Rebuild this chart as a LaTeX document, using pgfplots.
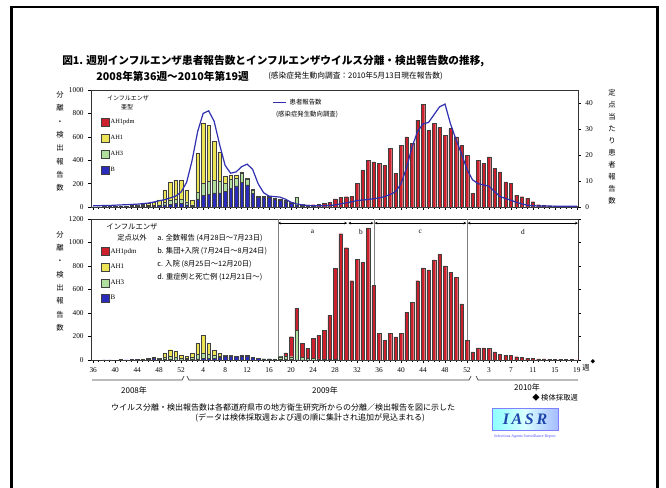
\documentclass[border=0pt]{standalone}
\usepackage{fontspec}
\setmainfont{Liberation Serif}
\newfontfamily\jp{Noto Sans CJK JP}
\usepackage{pgfplots}
\pgfplotsset{compat=1.18}
\usepackage{pgfplotstable}
\usetikzlibrary{arrows.meta}

\definecolor{cpdm}{RGB}{204,32,44}
\definecolor{ch1}{RGB}{236,228,84}
\definecolor{ch3}{RGB}{176,222,156}
\definecolor{cb}{RGB}{44,44,188}
\definecolor{cline}{RGB}{48,48,176}
\definecolor{logoblue}{RGB}{30,70,170}

\newcommand\fs[1]{\fontsize{#1}{#1}\selectfont}

\pgfplotstableread{
i pdm h1 h3 b
0 0 0 0 1
1 0 0 1 1
2 0 1 1 1
3 0 1 1 2
4 0 2 1 2
5 0 3 2 3
6 0 4 2 3
7 0 6 3 4
8 0 8 4 6
9 0 12 5 8
10 0 18 6 8
11 0 25 6 10
12 0 40 8 12
13 0 105 20 20
14 0 155 30 25
15 0 165 35 30
16 0 165 35 30
17 0 100 25 20
18 0 40 10 10
19 0 330 60 70
20 0 520 100 100
21 0 480 110 110
22 0 330 110 120
23 0 250 100 120
24 0 60 70 135
25 0 30 80 160
26 0 20 70 180
27 0 15 75 210
28 0 10 50 190
29 0 5 30 115
30 0 0 15 80
31 0 0 10 80
32 0 0 10 80
33 0 0 10 65
34 0 0 10 60
35 5 0 5 45
36 5 0 5 30
37 5 0 65 15
38 5 0 10 10
39 8 0 5 5
40 15 0 3 2
41 20 0 2 0
42 30 0 2 0
43 40 0 2 0
44 70 0 0 0
45 85 0 0 0
46 88 0 0 0
47 90 0 0 0
48 204 0 0 0
49 314 0 0 0
50 400 0 0 0
51 385 0 0 0
52 373 0 0 0
53 357 0 0 0
54 500 0 0 0
55 290 0 0 0
56 527 0 0 0
57 600 0 0 0
58 544 0 0 0
59 740 0 0 0
60 880 0 0 0
61 655 0 0 0
62 713 0 0 0
63 683 0 0 0
64 612 0 0 0
65 670 0 0 0
66 600 0 0 0
67 527 0 0 0
68 442 0 0 0
69 119 0 0 0
70 400 0 0 0
71 373 0 0 0
72 428 0 0 0
73 331 0 0 0
74 300 0 0 0
75 215 0 0 0
76 204 0 0 0
77 102 0 0 0
78 88 0 0 0
79 76 0 0 0
80 45 0 0 0
81 20 0 0 0
82 15 0 0 0
83 10 0 0 0
84 10 0 0 0
85 8 0 0 0
86 5 0 0 0
87 5 0 0 0
88 3 0 0 0
}\topdata

\pgfplotstableread{
i v
0 0.5
1 0.5
2 0.6
3 0.6
4 0.7
5 0.8
6 0.9
7 1.0
8 1.1
9 1.3
10 1.5
11 1.9
12 2.4
13 2.8
14 3.5
15 4.2
16 5.8
17 9.5
18 18
19 29
20 36
21 37
22 33
23 24
24 16
25 13
26 13.5
27 15.5
28 16.5
29 14.5
30 9
31 5.5
32 4.2
33 4
34 3.8
35 3
36 1.8
37 1.2
38 0.8
39 0.6
40 0.5
41 0.5
42 0.5
43 0.6
44 0.8
45 1.2
46 1.6
47 2.0
48 2.5
49 2.7
50 2.9
51 3.2
52 3.5
53 4
54 4.8
55 5.8
56 9
57 15
58 23
59 29
60 32
61 32.5
62 35.5
63 38.5
64 39.6
65 32
66 26
67 20.5
68 14.5
69 10.5
70 9
71 8.5
72 8
73 6
74 4
75 3.3
76 2.6
77 1.8
78 1.2
79 0.7
80 0.5
81 0.4
82 0.4
83 0.4
84 0.3
85 0.3
86 0.3
87 0.3
88 0.3
}\linedata

\pgfplotstableread{
i pdm h1 h3 b
0 0 0 0 0
1 0 0 0 0
2 0 0 0 1
3 0 0 0 2
4 0 0 0 0
5 0 0 2 3
6 0 0 0 1
7 0 0 2 2
8 0 3 2 2
9 0 5 2 3
10 0 6 2 4
11 0 8 4 12
12 0 8 4 5
13 0 35 20 3
14 0 55 30 3
15 0 45 25 2
16 0 25 15 2
17 0 15 10 5
18 0 35 15 5
19 0 90 40 10
20 0 150 45 15
21 0 90 35 15
22 0 45 25 15
23 0 20 15 20
24 0 2 5 30
25 0 2 5 30
26 0 1 3 32
27 0 1 3 35
28 0 0 3 35
29 0 0 2 20
30 0 0 2 14
31 0 0 1 10
32 0 0 1 10
33 0 0 1 8
34 5 0 20 8
35 25 0 30 5
36 170 0 25 3
37 190 0 250 2
38 120 0 20 1
39 85 0 15 1
40 170 0 15 0
41 200 0 10 0
42 245 0 8 0
43 375 0 5 0
44 775 0 3 0
45 1075 0 0 0
46 956 0 0 0
47 675 0 0 0
48 858 0 0 0
49 830 0 0 0
50 1125 0 0 0
51 633 0 0 0
52 225 0 0 0
53 169 0 0 0
54 225 0 0 0
55 197 0 0 0
56 225 0 0 0
57 408 0 0 0
58 492 0 0 0
59 675 0 0 0
60 785 0 0 0
61 768 0 0 0
62 852 0 0 0
63 900 0 0 0
64 802 0 0 0
65 746 0 0 0
66 703 0 0 0
67 478 0 0 0
68 169 0 0 0
69 70 0 0 0
70 104 0 0 0
71 104 0 0 0
72 98 0 0 0
73 70 0 0 0
74 51 0 0 0
75 42 0 0 0
76 42 0 0 0
77 28 0 0 0
78 22 0 0 0
79 15 0 0 0
80 12 0 0 0
81 10 0 0 0
82 10 0 0 0
83 8 0 0 0
84 6 0 0 0
85 5 0 0 0
86 4 0 0 0
87 3 0 0 0
88 2 0 0 0
}\lowdata

\pgfplotsset{
  common/.style={
    scale only axis, width=365.25pt,
    xmin=-0.4, xmax=88.2, ymin=0,
    tick align=outside,
    major tick length=2pt, minor tick length=1.2pt,
    every tick/.style={black, line width=0.3pt},
    axis line style={line width=0.5pt, black!80},
    tick label style={font=\fs{5.5}},
    /pgf/number format/assume math mode=true,
    /pgf/number format/1000 sep={},
    clip=false,
  },
  barstyle/.style={ybar stacked, bar width=0.62, xtick={0,4,...,88}, minor xtick={0,...,88}, xtick pos=bottom},
  sq/.style={draw=black!75, line width=0.25pt, legend image code/.code={\draw[##1,line width=0.3pt] (0pt,-3pt) rectangle (6pt,3pt);}},
}

\begin{document}
\begin{tikzpicture}
\begin{scope}[x=0.75pt,y=-0.75pt]
\useasboundingbox (0,0) rectangle (666,487);
\fill[white] (0,0) rectangle (666,487);
\begin{scope}
\clip (0,0) rectangle (666,487);
\draw[line width=2pt] (11.5,495) -- (11.5,7) -- (657.5,7) -- (657.5,495);
\end{scope}
% titles
\node[anchor=west, font=\jp\bfseries\fs{8}, inner sep=0pt] at (62,61) {図1. 週別インフルエンザ患者報告数とインフルエンザウイルス分離・検出報告数の推移,};
\node[anchor=west, font=\jp\bfseries\fs{8}, inner sep=0pt] at (96,76) {2008年第36週～2010年第19週};
\node[anchor=west, font=\jp\fs{5.8}, inner sep=0pt] at (268,76) {(感染症発生動向調査：2010年5月13日現在報告数)};
% y labels
\node[align=center, font=\jp\fontsize{5.5}{10}\selectfont, inner sep=0pt] at (60,141.5) {分\\離\\・\\検\\出\\報\\告\\数};
\node[align=center, font=\jp\fontsize{5.5}{10}\selectfont, inner sep=0pt] at (60,281) {分\\離\\・\\検\\出\\報\\告\\数};
\node[align=center, font=\jp\fontsize{5.5}{9}\selectfont, inner sep=0pt] at (612,146.5) {定\\点\\当\\た\\り\\患\\者\\報\\告\\数};
% legend titles
\node[font=\jp\fs{4.5}, inner sep=0pt] at (128,98) {インフルエンザ};
\node[font=\jp\fs{4.5}, inner sep=0pt] at (127,107) {亜型};
\node[font=\jp\fs{4.8}, inner sep=0pt] at (307,114) {(感染症発生動向調査)};
\node[font=\jp\fs{5.5}, inner sep=0pt] at (132,227) {インフルエンザ};
\node[font=\jp\fs{5.5}, inner sep=0pt] at (132,238) {定点以外};
\node[font=\jp\fs{5.5}, inner sep=0pt, anchor=west] at (157,238) {a. 全数報告 (4月28日～7月23日)};
\node[font=\jp\fs{5.5}, inner sep=0pt, anchor=west] at (157,251) {b. 集団+入院 (7月24日～8月24日)};
\node[font=\jp\fs{5.5}, inner sep=0pt, anchor=west] at (157,264) {c. 入院 (8月25日～12月20日)};
\node[font=\jp\fs{5.5}, inner sep=0pt, anchor=west] at (157,277) {d. 重症例と死亡例 (12月21日～)};
% x axis extras
\node[font=\jp\fs{5.5}, inner sep=0pt, anchor=west] at (582,368) {週};
\node[font=\jp\fs{3.5}, inner sep=0pt] at (593,362) {◆};
\draw[line width=0.5pt, black!75] (92,380) -- (182,380) -- (184,376);
\draw[line width=0.5pt, black!75] (187,376) -- (189,380) -- (469,380) -- (471,376);
\draw[line width=0.5pt, black!75] (476,376) -- (478,380) -- (578,380);
\node[font=\jp\fs{6}, inner sep=0pt] at (134,390) {2008年};
\node[font=\jp\fs{6}, inner sep=0pt] at (325,390) {2009年};
\node[font=\jp\fs{6}, inner sep=0pt] at (527,387) {2010年};
\node[font=\jp\fs{5.5}, inner sep=0pt, anchor=west] at (532,398) {◆ 検体採取週};
% notes
\node[font=\jp\fs{6}, inner sep=0pt] at (283,407) {ウイルス分離・検出報告数は各都道府県市の地方衛生研究所からの分離／検出報告を図に示した};
\node[font=\jp\fs{6}, inner sep=0pt] at (310,418) {(データは検体採取週および週の順に集計され追加が見込まれる)};
% logo
\shade[left color=cyan!45, right color=cyan!25!blue!35, middle color=cyan!15] (492,408) rectangle (558,430);
\draw[blue!50, line width=0.4pt] (492,408) rectangle (558,430);
\node[font=\bfseries\itshape\fs{12}, text=logoblue, inner sep=0pt] at (525,419.5) {I\,A\,S\,R};
\node[font=\fs{3}, text=blue!70, inner sep=0pt] at (525,437) {Infectious Agents Surveillance Report};
\end{scope}

% ---------------- top panel: bars
\begin{axis}[common, barstyle,
  at={(91*0.75pt,-90*0.75pt)}, anchor=north west, height=87.75pt,
  ymax=1000, ytick={0,200,...,1000}, ytick pos=left, xticklabels={},
  reverse legend, legend cell align=left,
  legend style={at={(0.021,0.76)}, anchor=north west, draw=none, fill=none, font=\fs{4.8},
    inner sep=0pt, row sep=5.6pt, nodes={inner sep=0.6pt},
    /tikz/every even column/.append style={column sep=2.5pt}},
]
\addplot[fill=cb, sq] table[x=i,y=b]{\topdata};
\addlegendentry{B}
\addplot[fill=ch3, sq] table[x=i,y=h3]{\topdata};
\addlegendentry{AH3}
\addplot[fill=ch1, sq] table[x=i,y=h1]{\topdata};
\addlegendentry{AH1}
\addplot[fill=cpdm, sq] table[x=i,y=pdm]{\topdata};
\addlegendentry{AH1pdm}
\end{axis}

% ---------------- top panel: line on right axis
\begin{axis}[common,
  at={(91*0.75pt,-90*0.75pt)}, anchor=north west, height=87.75pt,
  ymax=45, axis x line=none, axis y line*=right, ytick={0,10,...,40},
  legend style={at={(0.372,0.89)}, anchor=west, draw=none, fill=none, font=\jp\fs{4.8}, inner sep=0pt},
  legend image code/.code={\draw[#1] (0pt,0pt) -- (10pt,0pt);},
]
\addplot[cline, line width=0.9pt] table[x=i,y=v]{\linedata};
\addlegendentry{患者報告数}
\end{axis}

% ---------------- lower panel
\begin{axis}[common, barstyle,
  at={(91*0.75pt,-219*0.75pt)}, anchor=north west, height=105.75pt,
  ymax=1200, ytick={0,200,...,1200},
  xticklabels={36,40,44,48,52,4,8,12,16,20,24,28,32,36,40,44,48,52,3,7,11,15,19},
  reverse legend, legend cell align=left,
  legend style={at={(0.021,0.80)}, anchor=north west, draw=none, fill=none, font=\fs{5.2},
    inner sep=0pt, row sep=5.4pt, nodes={inner sep=0.6pt},
    /tikz/every even column/.append style={column sep=2.5pt}},
]
\addplot[fill=cb, sq] table[x=i,y=b]{\lowdata};
\addlegendentry{B}
\addplot[fill=ch3, sq] table[x=i,y=h3]{\lowdata};
\addlegendentry{AH3}
\addplot[fill=ch1, sq] table[x=i,y=h1]{\lowdata};
\addlegendentry{AH1}
\addplot[fill=cpdm, sq] table[x=i,y=pdm]{\lowdata};
\addlegendentry{AH1pdm}
\draw[black!50, line width=0.4pt] (axis cs:33.6,0) -- (axis cs:33.6,1200);
\draw[black!50, line width=0.4pt] (axis cs:51.1,0) -- (axis cs:51.1,1200);
\draw[black!50, line width=0.4pt] (axis cs:68.0,0) -- (axis cs:68.0,1200);
\draw[line width=0.4pt, {Stealth[length=2.2pt,width=2pt]}-{Stealth[length=2.2pt,width=2pt]}] (axis cs:33.6,1165) -- (axis cs:46.2,1165);
\draw[line width=0.4pt, {Stealth[length=2.2pt,width=2pt]}-{Stealth[length=2.2pt,width=2pt]}] (axis cs:46.4,1165) -- (axis cs:51.0,1165);
\draw[line width=0.4pt, {Stealth[length=2.2pt,width=2pt]}-{Stealth[length=2.2pt,width=2pt]}] (axis cs:51.2,1165) -- (axis cs:67.9,1165);
\draw[line width=0.4pt, {Stealth[length=2.2pt,width=2pt]}-{Stealth[length=2.2pt,width=2pt]}] (axis cs:68.1,1165) -- (axis cs:88.2,1165);
\node[font=\fs{5.5}] at (axis cs:39.9,1090) {a};
\node[font=\fs{5.5}] at (axis cs:48.7,1090) {b};
\node[font=\fs{5.5}] at (axis cs:59.5,1090) {c};
\node[font=\fs{5.5}] at (axis cs:78.2,1090) {d};
\end{axis}
\end{tikzpicture}
\end{document}
